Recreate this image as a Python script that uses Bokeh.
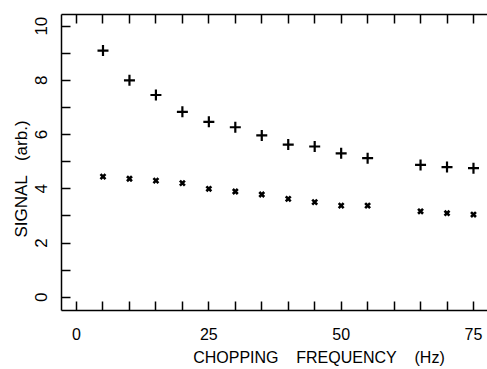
from bokeh.plotting import figure
from bokeh.models import Range1d, FixedTicker, LinearAxis
from bokeh.embed import file_html
from bokeh.resources import INLINE

# Data
freq_plus = [5, 10, 15, 20, 25, 30, 35, 40, 45, 50, 55, 65, 70, 75]
signal_plus = [9.1, 8.0, 7.46, 6.84, 6.47, 6.27, 5.97, 5.63, 5.56, 5.31, 5.13, 4.88, 4.80, 4.76]
freq_x = [5, 10, 15, 20, 25, 30, 35, 40, 45, 50, 55, 65, 70, 75]
signal_x = [4.45, 4.37, 4.30, 4.21, 4.00, 3.90, 3.79, 3.63, 3.51, 3.38, 3.38, 3.17, 3.10, 3.05]

x_ticks = [0, 25, 50, 75]
x_minor = [5, 10, 15, 20, 30, 35, 40, 45, 55, 60, 65, 70]
x_all = [0, 5, 10, 15, 20, 25, 30, 35, 40, 45, 50, 55, 60, 65, 70, 75]
y_ticks = [0, 2, 4, 6, 8, 10]
y_minor = [1, 3, 5, 7, 9]

FONT = "Liberation Sans"
NB = "\u00a0"

p = figure(width=487, height=369, output_backend="svg", toolbar_location=None,
           x_range=Range1d(-2.84, 77.65), y_range=Range1d(-0.49, 10.43),
           min_border_left=61, min_border_top=14, min_border_bottom=59, min_border_right=0)
p.outline_line_color = None
p.grid.grid_line_color = None
p.background_fill_color = "white"
p.border_fill_color = "white"

xa = p.xaxis[0]
xa.ticker = FixedTicker(ticks=x_ticks, minor_ticks=x_minor)
xa.major_tick_in = 9
xa.major_tick_out = 0
xa.minor_tick_in = 9
xa.minor_tick_out = 0
xa.axis_line_width = 1.5
xa.axis_line_color = "black"
xa.major_tick_line_width = 1.5
xa.minor_tick_line_width = 1.5
xa.major_label_text_font = FONT
xa.major_label_text_font_size = "16px"
xa.major_label_text_color = "black"
xa.major_label_standoff = 17
xa.axis_label = NB * 20 + "CHOPPING" + NB * 4 + "FREQUENCY" + NB * 4 + "(Hz)"
xa.axis_label_text_font = FONT
xa.axis_label_text_font_style = "normal"
xa.axis_label_text_font_size = "16px"
xa.axis_label_text_color = "black"
xa.axis_label_standoff = 6

ya = p.yaxis[0]
ya.ticker = FixedTicker(ticks=y_ticks, minor_ticks=y_minor)
ya.major_tick_in = 9
ya.major_tick_out = 0
ya.minor_tick_in = 9
ya.minor_tick_out = 0
ya.axis_line_width = 1.5
ya.axis_line_color = "black"
ya.major_tick_line_width = 1.5
ya.minor_tick_line_width = 1.5
ya.major_label_text_font = FONT
ya.major_label_text_font_size = "17px"
ya.major_label_text_color = "black"
ya.major_label_orientation = "vertical"
ya.major_label_standoff = 14
ya.axis_label = "SIGNAL" + NB * 3 + "(arb.)" + NB * 7
ya.axis_label_text_font = FONT
ya.axis_label_text_font_style = "normal"
ya.axis_label_text_font_size = "17px"
ya.axis_label_text_color = "black"
ya.axis_label_standoff = 2

top = LinearAxis(ticker=FixedTicker(ticks=[], minor_ticks=x_all))
top.minor_tick_in = 9
top.minor_tick_out = 0
top.major_tick_in = 0
top.major_tick_out = 0
top.axis_line_width = 1.5
top.axis_line_color = "black"
top.minor_tick_line_width = 1.5
top.major_label_text_font_size = "0px"
top.major_label_standoff = 0
p.add_layout(top, "above")

p.scatter(freq_plus, signal_plus, marker="cross", size=11, line_width=2.2, line_color="black")
p.scatter(freq_x, signal_x, marker="x", size=7, line_width=2.6, line_color="black")

open("out.html", "w").write(file_html(p, INLINE))
